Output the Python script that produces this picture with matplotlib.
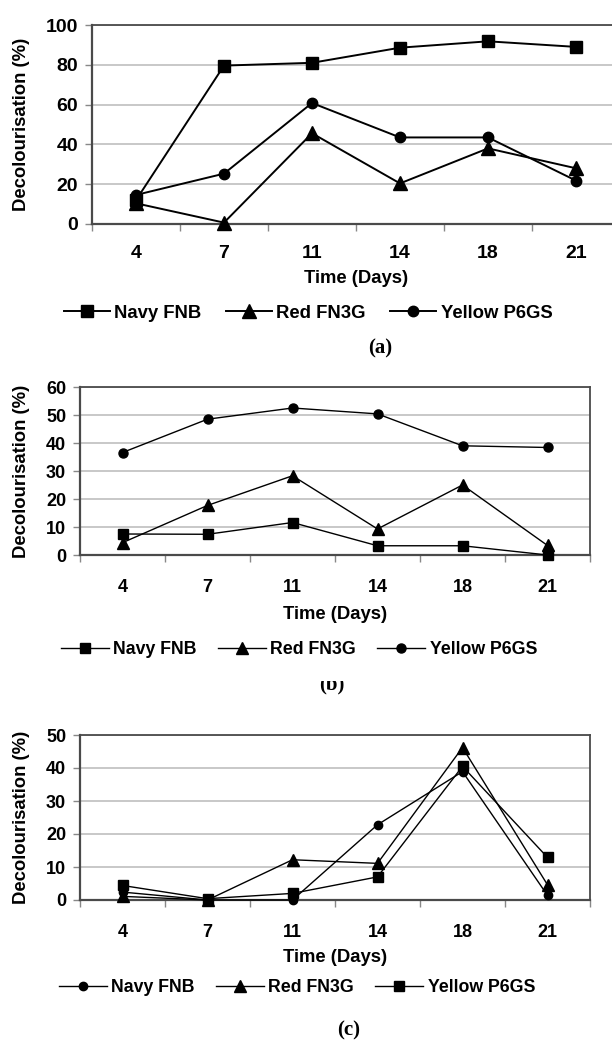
import matplotlib
matplotlib.use('Agg')
import matplotlib.pyplot as plt
from matplotlib.patches import Rectangle

# Datos
dias = ['4', '7', '11', '14', '18', '21']

# (a)
a_navy = [12, 79.6, 81, 88.6, 91.8, 89]
a_red = [10.4, 0.7, 45.6, 20.4, 38, 28]
a_yellow = [14.6, 25.3, 60.8, 43.5, 43.5, 21.8]

# (b)
b_navy = [7.5, 7.4, 11.6, 3.3, 3.3, 0]
b_red = [4.4, 17.7, 28.3, 9.3, 25, 3.4]
b_yellow = [36.6, 48.5, 52.5, 50.4, 39, 38.4]

# (c)
c_navy = [2.4, 0, 0, 22.8, 38.9, 1.4]
c_red = [1.1, 0, 12.2, 11.1, 46.2, 4.6]
c_yellow = [4.4, 0.4, 2.0, 7.0, 40.5, 12.9]

W, H = 612, 1042
fig = plt.figure(figsize=(W / 100, H / 100), dpi=100)
plt.rcParams['font.family'] = ['Liberation Sans', 'DejaVu Sans']

GRID = '#c4c4c4'
AXC = '#4a4a4a'


def fx(px):
    return px / W


def fy(py):
    return 1 - py / H


def panel(left, top, right, bottom, ymax, ystep, series, fs, lfs, lw, tickpad, ylabel_x,
          legend_y, legend_x, legend_fs, hl, cs, xlab_top):
    ax = fig.add_axes([fx(left), fy(bottom), fx(right) - fx(left), (bottom - top) / H])
    x = list(range(len(dias)))
    handles = []
    for vals, mk, ms, lab in series:
        h, = ax.plot(x, vals, color='black', lw=lw, marker=mk, ms=ms,
                     markerfacecolor='black', markeredgecolor='black', label=lab,
                     clip_on=False, zorder=3)
        handles.append(h)
    ax.set_xlim(-0.5, len(dias) - 0.5)
    ax.set_ylim(0, ymax)
    ax.set_yticks(range(0, ymax + 1, ystep))
    ax.yaxis.grid(True, color=GRID, lw=1.3)
    ax.set_axisbelow(True)
    # x: marcas en los limites de categoria, etiquetas al centro
    ax.set_xticks([i - 0.5 for i in range(len(dias) + 1)])
    ax.set_xticklabels([])
    ax.set_xticks(x, minor=True)
    ax.set_xticklabels(dias, minor=True, fontsize=fs, fontweight='bold')
    ax.tick_params(axis='x', which='major', length=5, width=1, color='#888888', direction='out')
    ax.tick_params(axis='x', which='minor', length=0, pad=tickpad)
    ax.tick_params(axis='y', length=5, width=1, color='#888888', pad=5)
    for t in ax.get_yticklabels():
        t.set_fontsize(fs)
        t.set_fontweight('bold')
    for s in ax.spines.values():
        s.set_color(AXC)
        s.set_linewidth(1.3)
    ax.spines['left'].set_linewidth(1.6)
    ax.spines['bottom'].set_linewidth(1.6)
    ax.set_xlabel('Time (Days)', fontsize=lfs, fontweight='bold')
    ax.xaxis.set_label_coords(0.5, -(xlab_top - bottom) / (bottom - top))
    fig.text(fx(ylabel_x), fy((top + bottom) / 2), 'Decolourisation (%)', rotation=90,
             ha='center', va='center', fontsize=lfs, fontweight='bold')
    ax.legend(handles=handles, loc='center', bbox_to_anchor=(fx(legend_x), fy(legend_y)),
              bbox_transform=fig.transFigure, ncol=3, frameon=False,
              prop={'weight': 'bold', 'size': legend_fs}, handlelength=hl, handletextpad=0.25,
              columnspacing=cs, borderpad=0, borderaxespad=0)
    return ax


ax1 = panel(92, 25, 620, 224, 100, 20,
            [(a_navy, 's', 9, 'Navy FNB'), (a_red, '^', 9.5, 'Red FN3G'), (a_yellow, 'o', 7.5, 'Yellow P6GS')],
            14, 13.3, 1.4, 15, 21, 313, 308, 13.3, 2.5, 1.3, 270)

ax2 = panel(80, 387, 590, 555, 60, 10,
            [(b_navy, 's', 6.5, 'Navy FNB'), (b_red, '^', 9, 'Red FN3G'), (b_yellow, 'o', 6.5, 'Yellow P6GS')],
            13, 13.3, 1.0, 17, 22, 650, 299, 12.8, 2.7, 1.2, 606)

ax3 = panel(80, 735, 590, 900, 50, 10,
            [(c_navy, 'o', 6, 'Navy FNB'), (c_red, '^', 8, 'Red FN3G'), (c_yellow, 's', 6.5, 'Yellow P6GS')],
            13, 13.3, 1.0, 17, 22, 988, 297, 12.8, 2.7, 1.2, 949)

# Etiquetas de los paneles
fig.text(fx(380), fy(348), '(a)', ha='center', va='center', fontsize=15,
         fontweight='bold', family='Liberation Serif')
fig.text(fx(332), fy(684), '(b)', ha='center', va='center', fontsize=15,
         fontweight='bold', family='Liberation Serif')
fig.patches.append(Rectangle((fx(310), fy(681)), fx(45), 16 / H, transform=fig.transFigure,
                             facecolor='white', edgecolor='none', zorder=10))
fig.text(fx(349), fy(1030), '(c)', ha='center', va='center', fontsize=15,
         fontweight='bold', family='Liberation Serif')

fig.savefig('out.png', dpi=100)
